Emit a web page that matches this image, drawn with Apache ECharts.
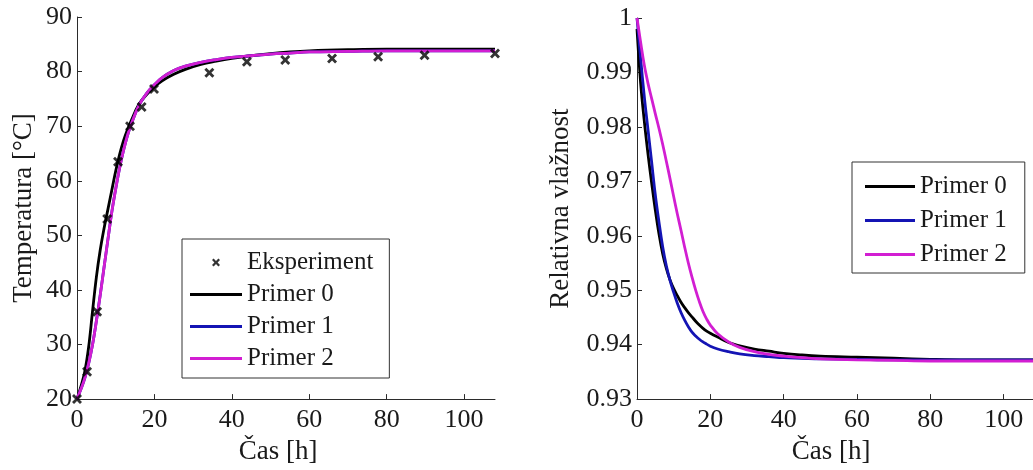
<!DOCTYPE html>
<html>
<head>
<meta charset="utf-8">
<script src="https://cdn.jsdelivr.net/npm/echarts@6/dist/echarts.min.js"></script>
<style>
  html, body { margin: 0; padding: 0; background: #fff; }
  #chart { width: 1033px; height: 470px; }
</style>
</head>
<body>
<div id="chart"></div>
<script>
// ---- Temperature panel ----
const tempTime = [0, 1, 2, 3, 4, 5, 6, 7, 8, 9, 10, 11, 12, 13, 14, 16, 18, 20, 22, 25, 28, 32, 36, 40, 45, 50, 55, 60, 70, 80, 90, 100, 108];
const tempPrimer0 = [20, 22.3, 25.0, 29.5, 36.0, 42.3, 47.3, 51.3, 54.8, 58.3, 61.8, 64.8, 67.3, 69.3, 71.0, 74.0, 75.8, 77.2, 78.3, 79.5, 80.4, 81.3, 81.9, 82.4, 82.9, 83.3, 83.6, 83.8, 84.0, 84.1, 84.1, 84.1, 84.1];
const tempPrimer1 = [20, 21.8, 23.8, 26.5, 29.9, 34.3, 39.1, 44.2, 49.3, 54.3, 58.5, 62.3, 65.5, 68.2, 70.3, 73.8, 76.0, 77.6, 78.9, 80.2, 81.0, 81.7, 82.2, 82.6, 82.9, 83.2, 83.4, 83.6, 83.7, 83.8, 83.8, 83.8, 83.8];
const tempPrimer2 = [20, 21.8, 23.8, 26.5, 29.9, 34.2, 39.0, 44.2, 49.3, 54.3, 58.5, 62.3, 65.5, 68.2, 70.3, 73.8, 76.0, 77.6, 78.9, 80.2, 81.0, 81.7, 82.2, 82.6, 82.9, 83.2, 83.4, 83.6, 83.7, 83.8, 83.8, 83.8, 83.8];
const expTime = [0, 2.6, 5.2, 7.8, 10.6, 13.7, 16.7, 19.9, 34.2, 43.9, 53.8, 65.9, 77.8, 89.8, 108];
const expTemp = [20, 25, 36, 53, 63.5, 70, 73.5, 76.8, 79.8, 81.8, 82.1, 82.4, 82.7, 83.0, 83.3];

// ---- Relative humidity panel ----
const rhTime = [0, 1, 2, 3, 4, 5, 6, 7, 8, 9, 10, 11, 12, 13, 14, 15, 16, 17, 18, 19, 20, 22, 25, 28, 32, 36, 40, 45, 50, 60, 70, 80, 90, 100, 108];
const rhPrimer0 = [0.998, 0.988, 0.981, 0.975, 0.9697, 0.9647, 0.9603, 0.9567, 0.9540, 0.9519, 0.9503, 0.9490, 0.9478, 0.9468, 0.9459, 0.9451, 0.9443, 0.9436, 0.9430, 0.9425, 0.9421, 0.9414, 0.9404, 0.9398, 0.9392, 0.9388, 0.9384, 0.9381, 0.9379, 0.9377, 0.9375, 0.9373, 0.9372, 0.9372, 0.9372];
const rhPrimer1 = [1.0, 0.9925, 0.9855, 0.9795, 0.9735, 0.9675, 0.9625, 0.9580, 0.9545, 0.9518, 0.9496, 0.9476, 0.9459, 0.9445, 0.9433, 0.9423, 0.9416, 0.9410, 0.9405, 0.9401, 0.9397, 0.9392, 0.9387, 0.9383, 0.9380, 0.9378, 0.9376, 0.9375, 0.9374, 0.9373, 0.9372, 0.9372, 0.9372, 0.9372, 0.9372];
const rhPrimer2 = [1.0, 0.9955, 0.9913, 0.9880, 0.9852, 0.9824, 0.9797, 0.9768, 0.9737, 0.9705, 0.9672, 0.9640, 0.9610, 0.9579, 0.9550, 0.9524, 0.9500, 0.9479, 0.9461, 0.9447, 0.9436, 0.9420, 0.9405, 0.9395, 0.9387, 0.9382, 0.9379, 0.9376, 0.9374, 0.9372, 0.9371, 0.9370, 0.9370, 0.9370, 0.9370];

// ---- Axis ticks ----
const timeTicks = [0, 20, 40, 60, 80, 100];
const tempTicks = [20, 30, 40, 50, 60, 70, 80, 90];
const rhTicks = [0.93, 0.94, 0.95, 0.96, 0.97, 0.98, 0.99, 1];

const seriesNames = ['Eksperiment', 'Primer 0', 'Primer 1', 'Primer 2'];
const lineColors = ['#000000', '#1414b4', '#d21ed2'];

const FONT = '"Liberation Serif", "Times New Roman", serif';
const TEXT = '#1a1a1a';
const AXIS = '#2b2b2b';
const CROSS = 'path://M0,2L2,0L5,3L8,0L10,2L7,5L10,8L8,10L5,7L2,10L0,8L3,5Z';
const LINE_ICON = 'path://M0,0H52V3H0Z';

const zip = (xs, ys) => xs.map((x, i) => [x, ys[i]]);

function valueAxis(gridIndex, min, max, ticks, extra) {
  return Object.assign({
    type: 'value',
    gridIndex: gridIndex,
    min: min,
    max: max,
    splitLine: { show: false },
    axisLine: { show: true, lineStyle: { color: AXIS, width: 1 } },
    axisTick: { show: true, inside: true, length: 5, lineStyle: { color: AXIS, width: 1 }, customValues: ticks },
    axisLabel: { color: TEXT, fontFamily: FONT, fontSize: 26, customValues: ticks },
    nameTextStyle: { color: TEXT, fontFamily: FONT, fontSize: 27 },
    nameLocation: 'middle'
  }, extra);
}

function curve(name, gridIdx, xs, ys, color, z) {
  return {
    name: name,
    type: 'line',
    xAxisIndex: gridIdx,
    yAxisIndex: gridIdx,
    data: zip(xs, ys),
    symbol: 'none',
    smooth: 0.4,
    lineStyle: { color: color, width: 2.8 },
    itemStyle: { color: color },
    z: z,
    animation: false
  };
}

const legendText = { color: TEXT, fontFamily: FONT, fontSize: 25 };

const option = {
  backgroundColor: '#ffffff',
  animation: false,
  grid: [
    { left: 77, top: 17, width: 418, height: 389 },
    { left: 637, top: 18, width: 408, height: 388 }
  ],
  xAxis: [
    valueAxis(0, 0, 108, timeTicks, {
      name: 'Čas [h]', nameGap: 32,
      axisLabel: { color: TEXT, fontFamily: FONT, fontSize: 26, margin: 8, customValues: timeTicks },
      nameTextStyle: { color: TEXT, fontFamily: FONT, fontSize: 27, padding: [0, 16, 0, 0] }
    }),
    valueAxis(1, 0, 108, timeTicks, {
      name: 'Čas [h]', nameGap: 32,
      axisLabel: { color: TEXT, fontFamily: FONT, fontSize: 26, margin: 8, customValues: timeTicks },
      nameTextStyle: { color: TEXT, fontFamily: FONT, fontSize: 27, padding: [0, 8, 0, 0] }
    })
  ],
  yAxis: [
    valueAxis(0, 20, 90, tempTicks, {
      name: 'Temperatura [°C]', nameGap: 40,
      axisLabel: { color: TEXT, fontFamily: FONT, fontSize: 26, margin: 5, customValues: tempTicks }
    }),
    valueAxis(1, 0.93, 1, rhTicks, {
      name: 'Relativna vlažnost', nameGap: 63,
      axisLabel: {
        color: TEXT, fontFamily: FONT, fontSize: 26, margin: 5, customValues: rhTicks,
        formatter: v => (v === 1 ? '1' : v.toFixed(2))
      }
    })
  ],
  legend: [
    {
      left: 182, top: 239,
      orient: 'vertical',
      itemWidth: 52, itemHeight: 8, itemGap: 7,
      padding: [11, 16, 7, 8],
      borderColor: '#333', borderWidth: 1, borderRadius: 0,
      backgroundColor: '#ffffff',
      textStyle: legendText,
      itemStyle: { borderWidth: 0 },
      selectedMode: false,
      data: [
        { name: seriesNames[0], icon: CROSS },
        { name: seriesNames[1], icon: LINE_ICON },
        { name: seriesNames[2], icon: LINE_ICON },
        { name: seriesNames[3], icon: LINE_ICON }
      ]
    },
    {
      left: 852, top: 162,
      orient: 'vertical',
      itemWidth: 50, itemHeight: 8, itemGap: 9,
      padding: [12, 18, 6, 13],
      borderColor: '#333', borderWidth: 1, borderRadius: 0,
      backgroundColor: '#ffffff',
      textStyle: legendText,
      itemStyle: { borderWidth: 0 },
      selectedMode: false,
      data: [
        { name: seriesNames[1], icon: LINE_ICON },
        { name: seriesNames[2], icon: LINE_ICON },
        { name: seriesNames[3], icon: LINE_ICON }
      ]
    }
  ],
  series: [
    {
      name: seriesNames[0],
      type: 'scatter',
      xAxisIndex: 0,
      yAxisIndex: 0,
      data: zip(expTime, expTemp),
      symbol: CROSS,
      symbolSize: 10,
      itemStyle: { color: '#000000' },
      z: 5,
      animation: false
    },
    curve(seriesNames[1], 0, tempTime, tempPrimer0, lineColors[0], 2),
    curve(seriesNames[2], 0, tempTime, tempPrimer1, lineColors[1], 3),
    curve(seriesNames[3], 0, tempTime, tempPrimer2, lineColors[2], 4),
    curve(seriesNames[1], 1, rhTime, rhPrimer0, lineColors[0], 2),
    curve(seriesNames[2], 1, rhTime, rhPrimer1, lineColors[1], 3),
    curve(seriesNames[3], 1, rhTime, rhPrimer2, lineColors[2], 4)
  ]
};

const chart = echarts.init(document.getElementById('chart'));
chart.setOption(option);
</script>
</body>
</html>
